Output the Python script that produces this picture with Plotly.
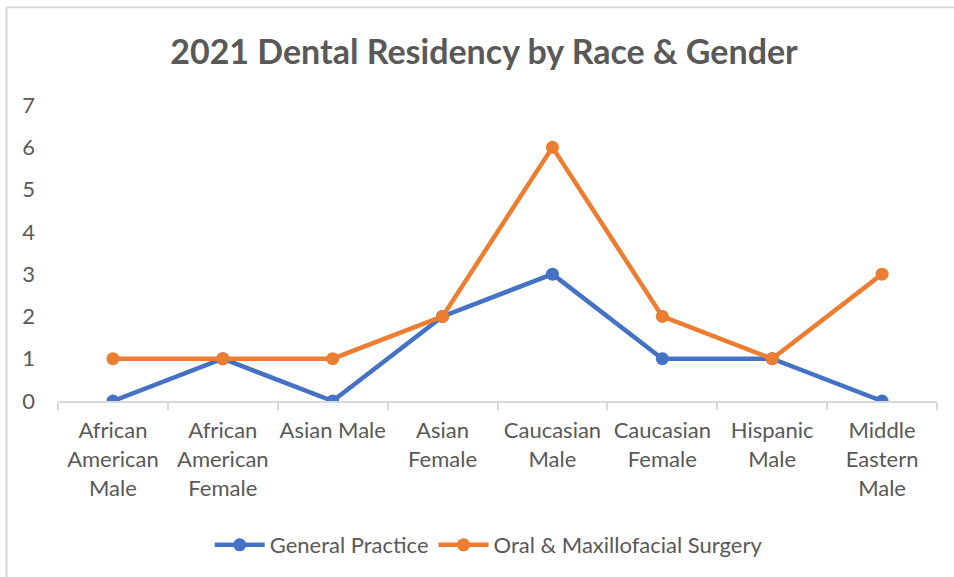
import plotly.graph_objects as go

categories = ["African<br>American<br>Male", "African<br>American<br>Female", "Asian Male",
              "Asian<br>Female", "Caucasian<br>Male", "Caucasian<br>Female",
              "Hispanic<br>Male", "Middle<br>Eastern<br>Male"]
general_practice = [0, 1, 0, 2, 3, 1, 1, 0]
oral_maxillofacial = [1, 1, 1, 2, 6, 2, 1, 3]
y_ticks = [0, 1, 2, 3, 4, 5, 6, 7]

FONT = "Lato"
GREY = "#595959"

fig = go.Figure()
fig.add_trace(go.Scatter(x=categories, y=general_practice, mode="lines+markers",
                         name="General Practice",
                         line=dict(color="#4472C4", width=4.5),
                         marker=dict(size=13, color="#4472C4")))
fig.add_trace(go.Scatter(x=categories, y=oral_maxillofacial, mode="lines+markers",
                         name="Oral & Maxillofacial Surgery",
                         line=dict(color="#ED7D31", width=4.5),
                         marker=dict(size=13, color="#ED7D31")))

L, R, T, B = 58, 17, 105, 175
W, H = 954, 577
pw, ph = W - L - R, H - T - B

def px_x(p):
    return (p - L) / pw

def px_y(p):
    return (H - B - p) / ph

fig.update_layout(
    width=W, height=H,
    margin=dict(l=L, r=R, t=T, b=B),
    paper_bgcolor="white", plot_bgcolor="white",
    font=dict(family=FONT, color=GREY, size=22),
    title=dict(text="<b>2021 Dental Residency by Race & Gender</b>",
               x=484 / W, xanchor="center", y=1 - 52 / H, yanchor="middle",
               font=dict(size=34, color=GREY, family=FONT)),
    showlegend=True,
    legend=dict(orientation="h", x=0.49, xanchor="center", y=px_y(545), yanchor="middle",
                font=dict(size=22, color=GREY, family=FONT), itemwidth=50),
    xaxis=dict(type="category", range=[-0.5, 7.5], showgrid=False,
               showline=True, linecolor="#d9d9d9", linewidth=2,
               ticks="outside", ticklen=7, tickcolor="#d9d9d9", tickwidth=2,
               tickson="boundaries", tickfont=dict(size=22, color=GREY, family=FONT),
               tickangle=0, ticklabelstandoff=9),
    yaxis=dict(range=[0, 7], tickvals=y_ticks, showgrid=False, zeroline=False,
               showline=False, tickfont=dict(size=22, color=GREY, family=FONT),
               ticks="", ticklabelstandoff=22),
    shapes=[
        dict(type="line", xref="paper", yref="paper",
             x0=px_x(6.5), x1=px_x(6.5), y0=px_y(7), y1=px_y(H + 5),
             line=dict(color="#d9d9d9", width=2)),
        dict(type="line", xref="paper", yref="paper",
             x0=px_x(6.5), x1=px_x(W + 5), y0=px_y(7), y1=px_y(7),
             line=dict(color="#d9d9d9", width=2)),
    ],
)

fig.write_html("out.html", config={"displayModeBar": False},
               post_script="document.body.style.margin='0';")
